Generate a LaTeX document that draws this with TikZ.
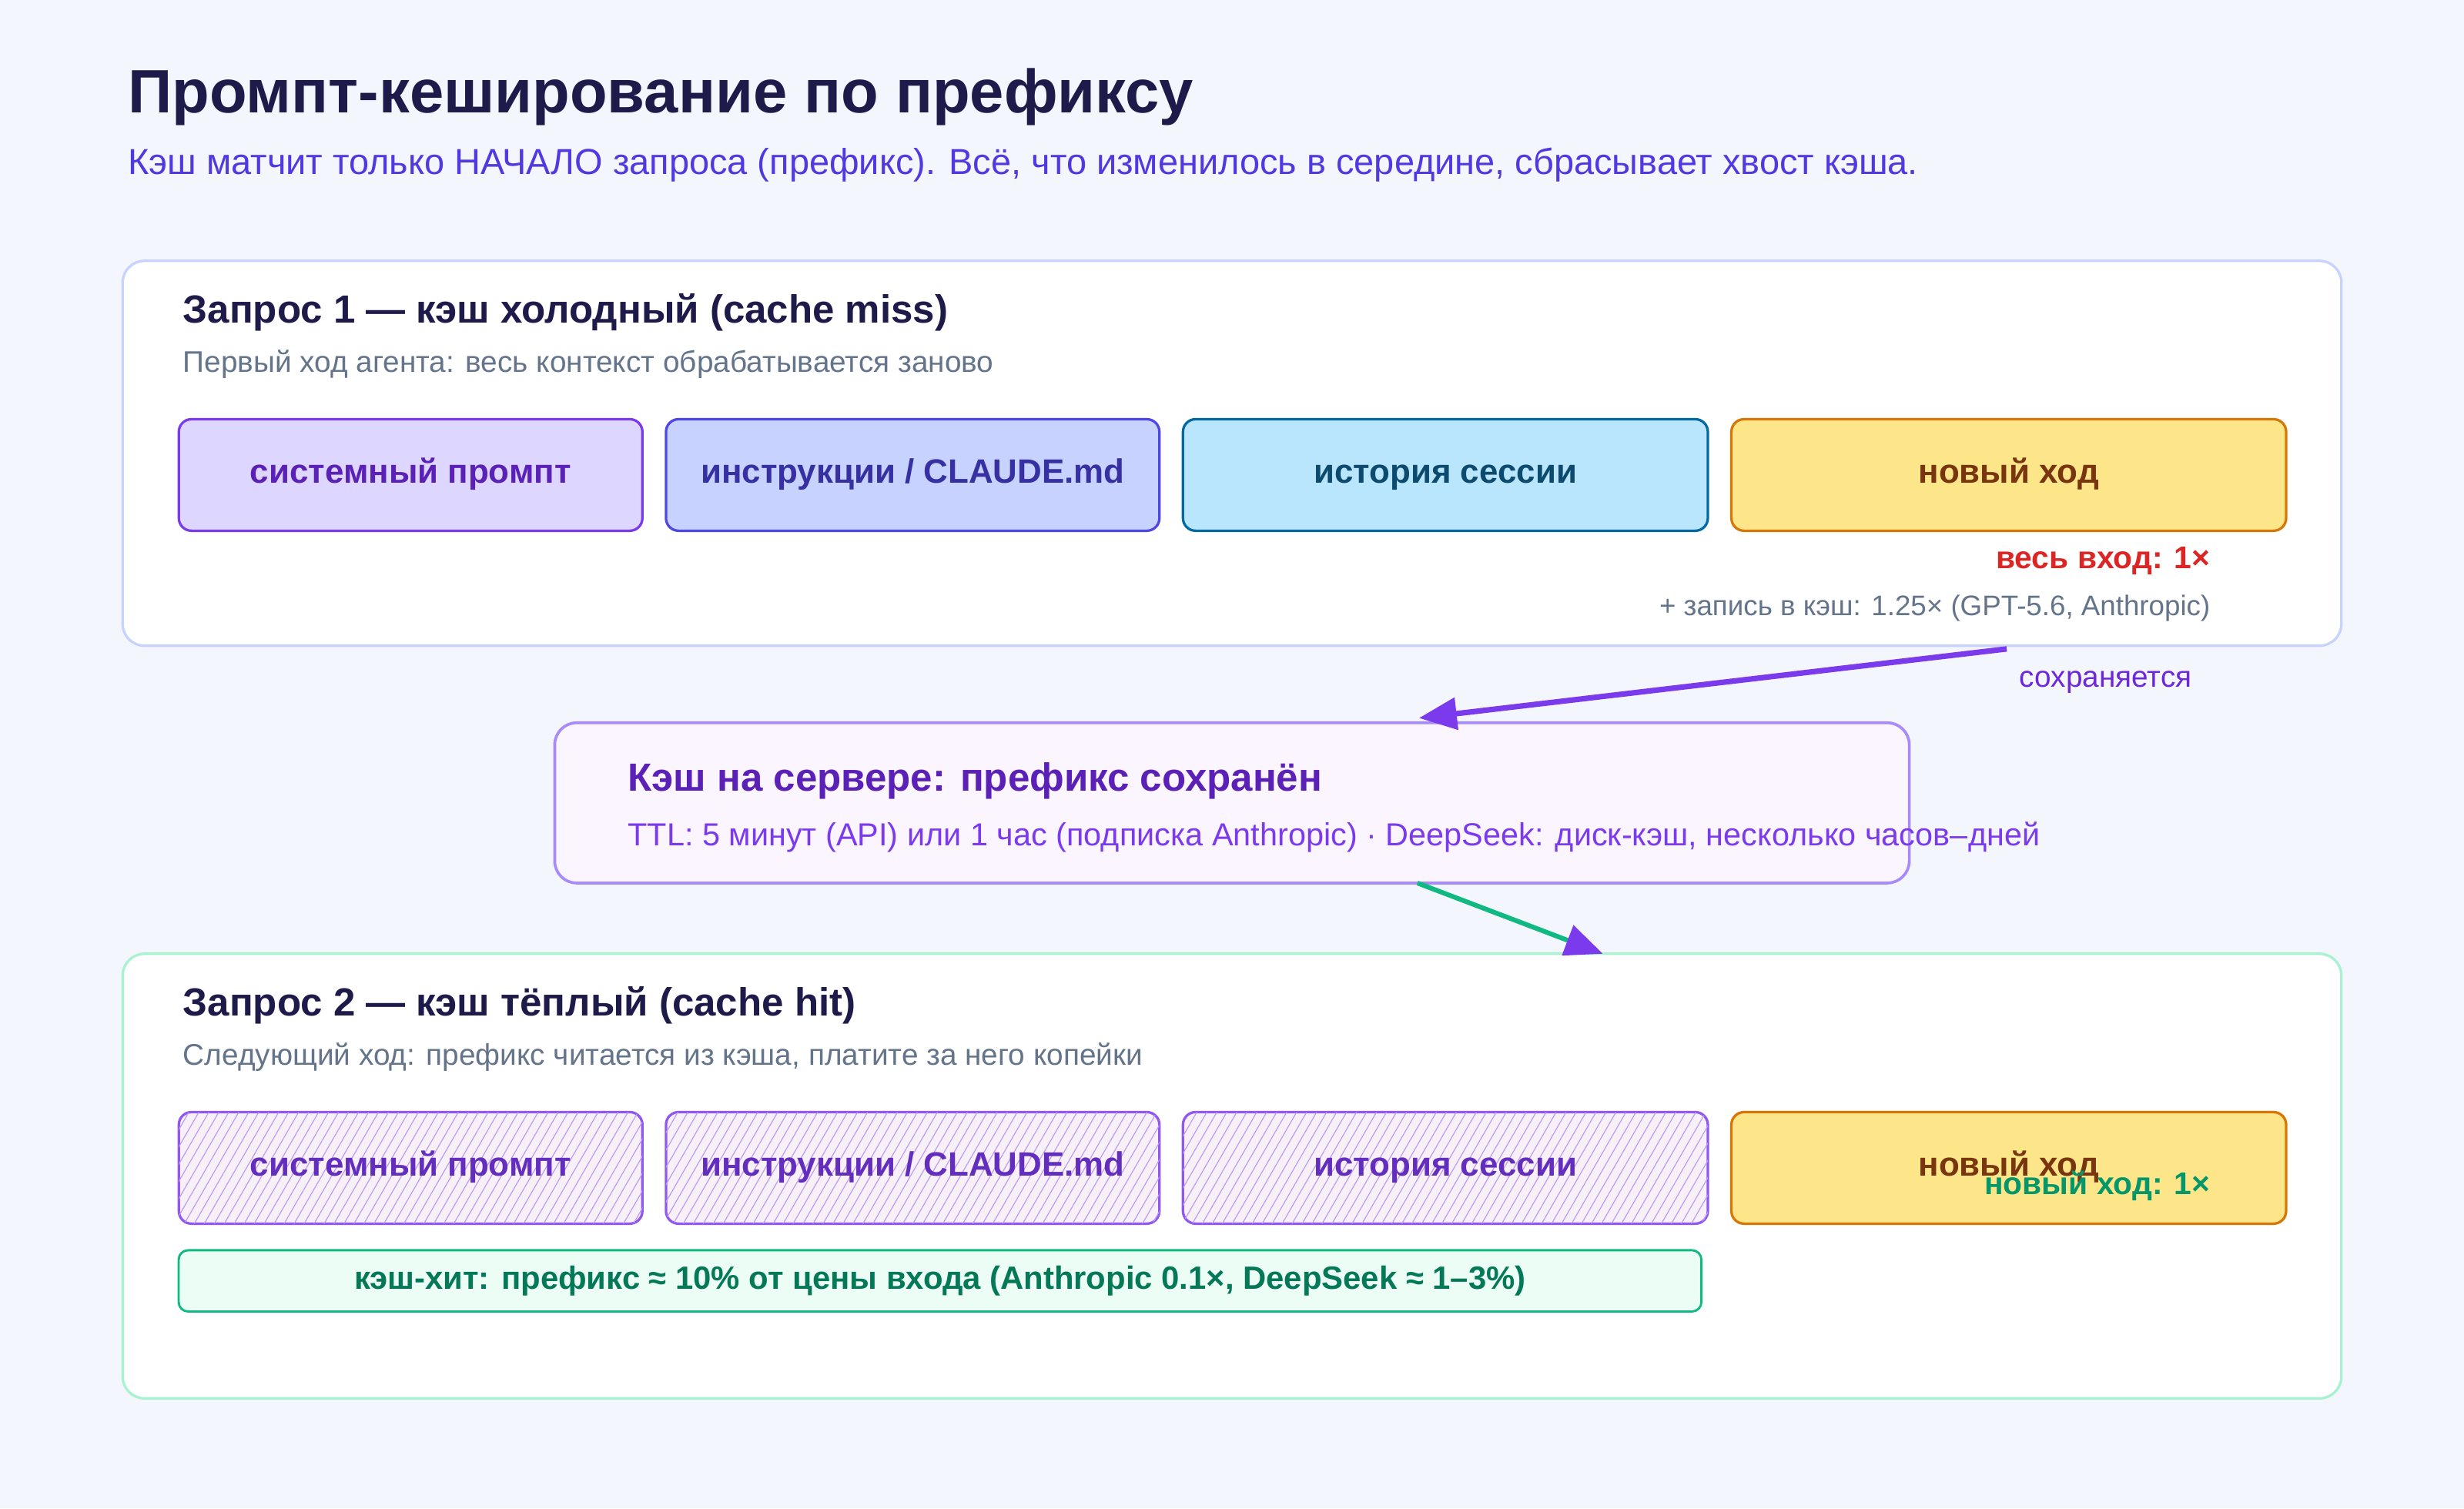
\documentclass[tikz,border=0pt]{standalone}
\usepackage{fontspec}
\setmainfont{Liberation Sans}
\usetikzlibrary{arrows.meta,patterns.meta}
\newcommand{\fsz}[1]{\fontsize{#1}{#1}\selectfont}
\definecolor{navy}{HTML}{1E1B4B}
\definecolor{slate}{HTML}{64748B}
\definecolor{vio}{HTML}{7C3AED}
\definecolor{emer}{HTML}{10B981}
\tikzset{
  req/.style={draw, rounded corners=14pt, line width=1.6pt, fill=white},
  blk/.style={draw, rounded corners=8pt, line width=1.6pt, minimum height=71pt, anchor=north west, inner sep=0pt, text height=15pt, text depth=5pt, font=\fsz{21.5}\bfseries},
  head/.style={anchor=west, font=\fsz{25}\bfseries, text=navy},
  note/.style={anchor=west, font=\fsz{19}, text=slate},
  hatch/.style={fill=violet!6, postaction={pattern={Lines[angle=60,distance=5.5pt,line width=0.6pt]}, pattern color=vio!50}, draw=vio!85!white, text=vio!80!black},
}
\begin{document}
\begin{tikzpicture}[x=1pt,y=-1pt]
\fill[fill={rgb,255:red,244;green,246;blue,253}] (0,0) rectangle (1568,960);
\useasboundingbox (0,0) rectangle (1568,960);
% title
\node[anchor=base west, font=\fsz{39}\bfseries, text=navy] (title) at (78,72) {Промпт-кеширование по префиксу};
\node[anchor=west, font=\fsz{23}, text={rgb,255:red,79;green,57;blue,224}] (subtitle) at (78,105) {Кэш матчит только НАЧАЛО запроса (префикс). Всё, что изменилось в середине, сбрасывает хвост кэша.};
% request 1
\draw[req, draw={rgb,255:red,199;green,210;blue,254}] (78,166) rectangle (1490,411);
\node[head] (h1) at (113,199) {Запрос 1 — кэш холодный (cache miss)};
\node[note] (n1) at (113,232) {Первый ход агента: весь контекст обрабатывается заново};
\node[blk, minimum width=295pt, fill={rgb,255:red,221;green,214;blue,254}, draw=vio, text={rgb,255:red,91;green,33;blue,182}] (a1) at (113,266) {системный промпт};
\node[blk, minimum width=314pt, fill={rgb,255:red,199;green,210;blue,254}, draw={rgb,255:red,79;green,70;blue,229}, text={rgb,255:red,55;green,48;blue,163}] (b1) at (423,266) {инструкции / CLAUDE.md};
\node[blk, minimum width=334pt, fill={rgb,255:red,186;green,230;blue,253}, draw={rgb,255:red,3;green,105;blue,161}, text={rgb,255:red,12;green,74;blue,110}] (c1) at (752,266) {история сессии};
\node[blk, minimum width=353pt, fill={rgb,255:red,253;green,230;blue,138}, draw={rgb,255:red,217;green,119;blue,6}, text={rgb,255:red,120;green,53;blue,15}] (d1) at (1101,266) {новый ход};
\node[anchor=east, font=\fsz{20}\bfseries, text={rgb,255:red,220;green,38;blue,38}] (cost1) at (1410,357) {весь вход: 1×};
\node[anchor=east, font=\fsz{18}, text=slate] (write1) at (1410,387) {+ запись в кэш: 1.25× (GPT-5.6, Anthropic)};
% server cache
\draw[rounded corners=14pt, line width=1.8pt, fill={rgb,255:red,250;green,245;blue,255}, draw={rgb,255:red,167;green,139;blue,250}] (353,460) rectangle (1215,562);
\node[head, text={rgb,255:red,91;green,33;blue,182}] (hc) at (396,497) {Кэш на сервере: префикс сохранён};
\node[anchor=west, font=\fsz{20.3}, text=vio] (nc) at (396,533) {TTL: 5 минут (API) или 1 час (подписка Anthropic) · DeepSeek: диск-кэш, несколько часов–дней};
% request 2
\draw[req, draw={rgb,255:red,167;green,243;blue,208}] (78,607) rectangle (1490,890);
\node[head] (h2) at (113,640) {Запрос 2 — кэш тёплый (cache hit)};
\node[note] (n2) at (113,673) {Следующий ход: префикс читается из кэша, платите за него копейки};
\node[blk, hatch, minimum width=295pt] (a2) at (113,707) {системный промпт};
\node[blk, hatch, minimum width=314pt] (b2) at (423,707) {инструкции / CLAUDE.md};
\node[blk, hatch, minimum width=334pt] (c2) at (752,707) {история сессии};
\node[blk, minimum width=353pt, fill={rgb,255:red,253;green,230;blue,138}, draw={rgb,255:red,217;green,119;blue,6}, text={rgb,255:red,120;green,53;blue,15}] (d2) at (1101,707) {новый ход};
\node[anchor=east, font=\fsz{20}\bfseries, text={rgb,255:red,5;green,150;blue,105}] (cost2) at (1410,755) {новый ход: 1×};
\node[draw=emer, fill={rgb,255:red,236;green,253;blue,245}, rounded corners=6pt, line width=1.4pt, anchor=north west, minimum width=969pt, minimum height=39pt, inner sep=0pt, font=\fsz{20.5}\bfseries, text={rgb,255:red,4;green,120;blue,87}] (hit) at (113,795) {кэш-хит: префикс ≈ 10\% от цены входа (Anthropic 0.1×, DeepSeek ≈ 1–3\%)};
% arrows
\coordinate (s1) at (1277,413);
\coordinate (e1) at (903,457);
\coordinate (s2) at (902,562);
\coordinate (e2) at (1020,607);
\draw[line width=3.5pt, vio, -{Triangle[length=24pt,width=20pt]}] (s1) -- (e1);
\node[font=\fsz{19}, text={rgb,255:red,109;green,40;blue,217}] (keep) at (1340,434) {сохраняется};
\draw[line width=3pt, emer, -{Triangle[length=24pt,width=20pt,color=vio]}] (s2) -- (e2);
\end{tikzpicture}
\end{document}
